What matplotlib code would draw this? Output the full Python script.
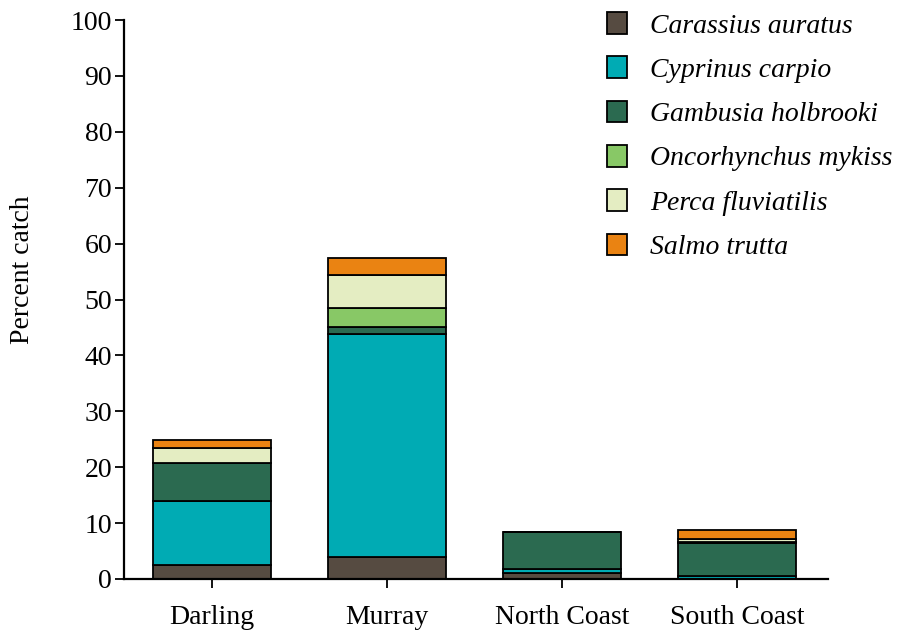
import matplotlib
matplotlib.use("Agg")
import matplotlib.pyplot as plt
import numpy as np

regions = ["Darling", "Murray", "North Coast", "South Coast"]
species = ["Carassius auratus", "Cyprinus carpio", "Gambusia holbrooki",
           "Oncorhynchus mykiss", "Perca fluviatilis", "Salmo trutta"]

carassius = [2.5, 3.9, 1.0, 0.0]
cyprinus = [11.5, 39.9, 0.7, 0.5]
gambusia = [6.8, 1.3, 6.7, 5.9]
oncorhynchus = [0.0, 3.4, 0.0, 0.3]
perca = [2.6, 5.9, 0.0, 0.4]
salmo = [1.5, 3.0, 0.0, 1.7]

colors = ["#564b41", "#00abb4", "#2b6a50", "#88c866", "#e4edc2", "#ea8312"]

plt.rcParams["font.family"] = ["Liberation Serif", "DejaVu Serif"]

fig = plt.figure(figsize=(8.98, 6.37), dpi=100)
ax = fig.add_axes([124 / 898, 1 - 579 / 637, (828 - 124) / 898, (579 - 20) / 637])

x = np.arange(len(regions))
bottom = np.zeros(len(regions))
for name, vals, col in zip(species,
                           [carassius, cyprinus, gambusia, oncorhynchus, perca, salmo],
                           colors):
    v = np.array(vals)
    ax.bar(x, v, width=0.67, bottom=bottom, color=col, edgecolor="black",
           linewidth=1.3, label=name)
    bottom += v

ax.set_xlim(-0.503, 3.52)
ax.set_ylim(0, 100)
ax.set_yticks(np.arange(0, 101, 10))
ax.set_xticks(x)
ax.set_xticklabels(regions)
ax.tick_params(axis="both", labelsize=20, width=1.3, length=6.5, direction="out")
ax.tick_params(axis="x", pad=12)
ax.tick_params(axis="y", pad=2)
for s in ["top", "right"]:
    ax.spines[s].set_visible(False)
for s in ["left", "bottom"]:
    ax.spines[s].set_linewidth(1.6)
ax.set_ylabel("Percent catch", fontsize=20)
ax.yaxis.set_label_coords(-0.127, 0.553)

leg = fig.legend(loc="upper left", bbox_to_anchor=(607 / 898, 1 - 12 / 637),
                 frameon=False, prop={"style": "italic", "size": 20},
                 handlelength=0.72, handleheight=0.83, handletextpad=0.83,
                 labelspacing=0.64, borderaxespad=0, borderpad=0)

fig.savefig("out.png", dpi=100)
